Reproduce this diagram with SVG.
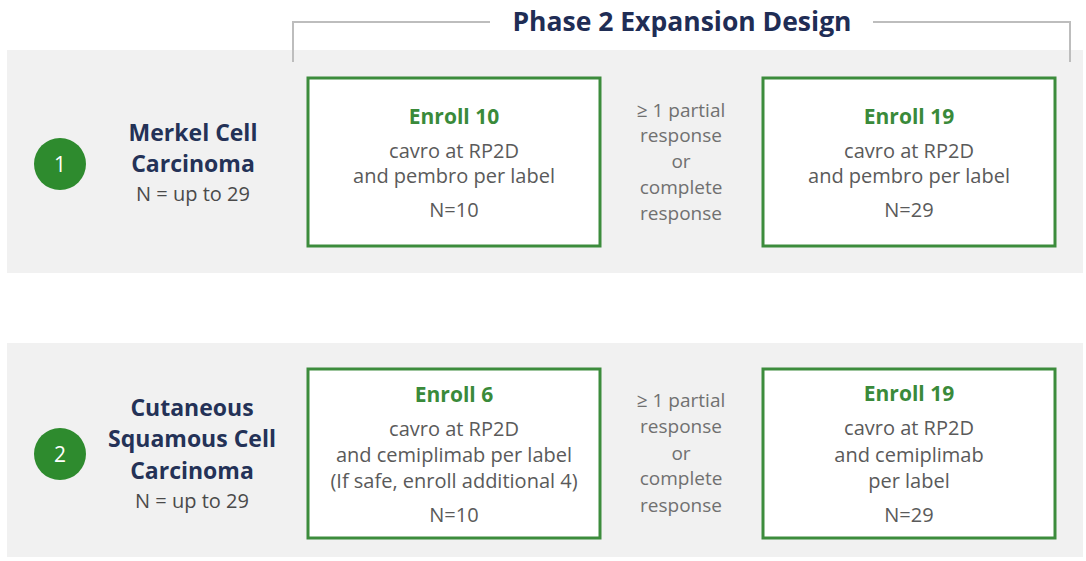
<svg xmlns="http://www.w3.org/2000/svg" width="1086" height="561" viewBox="0 0 1086 561">
<style>
text{font-family:"Open Sans",Lato,"Liberation Sans",sans-serif;text-anchor:middle}
.band{fill:#f1f1f1}
.box{fill:#ffffff;stroke:#3c8c3c;stroke-width:3}
.num{fill:#ffffff;font-size:21px}
.circ{fill:#2e8b2e}
.title{fill:#1f2d55;font-size:26.5px;font-weight:bold}
.name{fill:#243257;font-size:23px;font-weight:bold}
.nsub{fill:#4a4a4a;font-size:20px}
.head{fill:#3a8a3a;font-size:21px;font-weight:bold}
.body{fill:#5a5a5a;font-size:20px}
.mid{fill:#707070;font-size:19px}
.brk{fill:none;stroke:#bdbdbd;stroke-width:2}
</style>
<rect class="band" x="7" y="50" width="1076" height="223"/>
<rect class="band" x="7" y="343" width="1076" height="214"/>
<g id="header">
<path class="brk" d="M293,62 V22 H490 M873,22 H1070 V62"/>
<text class="title" x="682" y="31">Phase 2 Expansion Design</text>
</g>
<g id="row1-label">
<circle class="circ" cx="60" cy="164" r="26"/>
<text class="num" x="60" y="172">1</text>
<text class="name" x="193" y="141">Merkel Cell</text>
<text class="name" x="193" y="172">Carcinoma</text>
<text class="nsub" x="193" y="201">N = up to 29</text>
</g>
<g id="row1-box1">
<rect class="box" x="308" y="78" width="292" height="168"/>
<text class="head" x="454" y="124">Enroll 10</text>
<text class="body" x="454" y="158">cavro at RP2D</text>
<text class="body" x="454" y="183">and pembro per label</text>
<text class="body" x="454" y="217">N=10</text>
</g>
<g id="row1-mid">
<text class="mid" x="681" y="117">≥ 1 partial</text>
<text class="mid" x="681" y="142">response</text>
<text class="mid" x="681" y="168">or</text>
<text class="mid" x="681" y="194">complete</text>
<text class="mid" x="681" y="220">response</text>
</g>
<g id="row1-box2">
<rect class="box" x="763" y="78" width="292" height="168"/>
<text class="head" x="909" y="124">Enroll 19</text>
<text class="body" x="909" y="158">cavro at RP2D</text>
<text class="body" x="909" y="183">and pembro per label</text>
<text class="body" x="909" y="217">N=29</text>
</g>
<g id="row2-label">
<circle class="circ" cx="60" cy="454" r="26"/>
<text class="num" x="60" y="462">2</text>
<text class="name" x="192" y="416">Cutaneous</text>
<text class="name" x="192" y="447">Squamous Cell</text>
<text class="name" x="192" y="479">Carcinoma</text>
<text class="nsub" x="192" y="508">N = up to 29</text>
</g>
<g id="row2-box1">
<rect class="box" x="308" y="369" width="292" height="169"/>
<text class="head" x="454" y="402">Enroll 6</text>
<text class="body" x="454" y="436">cavro at RP2D</text>
<text class="body" x="454" y="462">and cemiplimab per label</text>
<text class="body" x="454" y="488">(If safe, enroll additional 4)</text>
<text class="body" x="454" y="522">N=10</text>
</g>
<g id="row2-mid">
<text class="mid" x="681" y="407">≥ 1 partial</text>
<text class="mid" x="681" y="433">response</text>
<text class="mid" x="681" y="460">or</text>
<text class="mid" x="681" y="485">complete</text>
<text class="mid" x="681" y="512">response</text>
</g>
<g id="row2-box2">
<rect class="box" x="763" y="369" width="292" height="169"/>
<text class="head" x="909" y="401">Enroll 19</text>
<text class="body" x="909" y="435">cavro at RP2D</text>
<text class="body" x="909" y="462">and cemiplimab</text>
<text class="body" x="909" y="488">per label</text>
<text class="body" x="909" y="522">N=29</text>
</g>
<g id="connectors"></g>
</svg>
